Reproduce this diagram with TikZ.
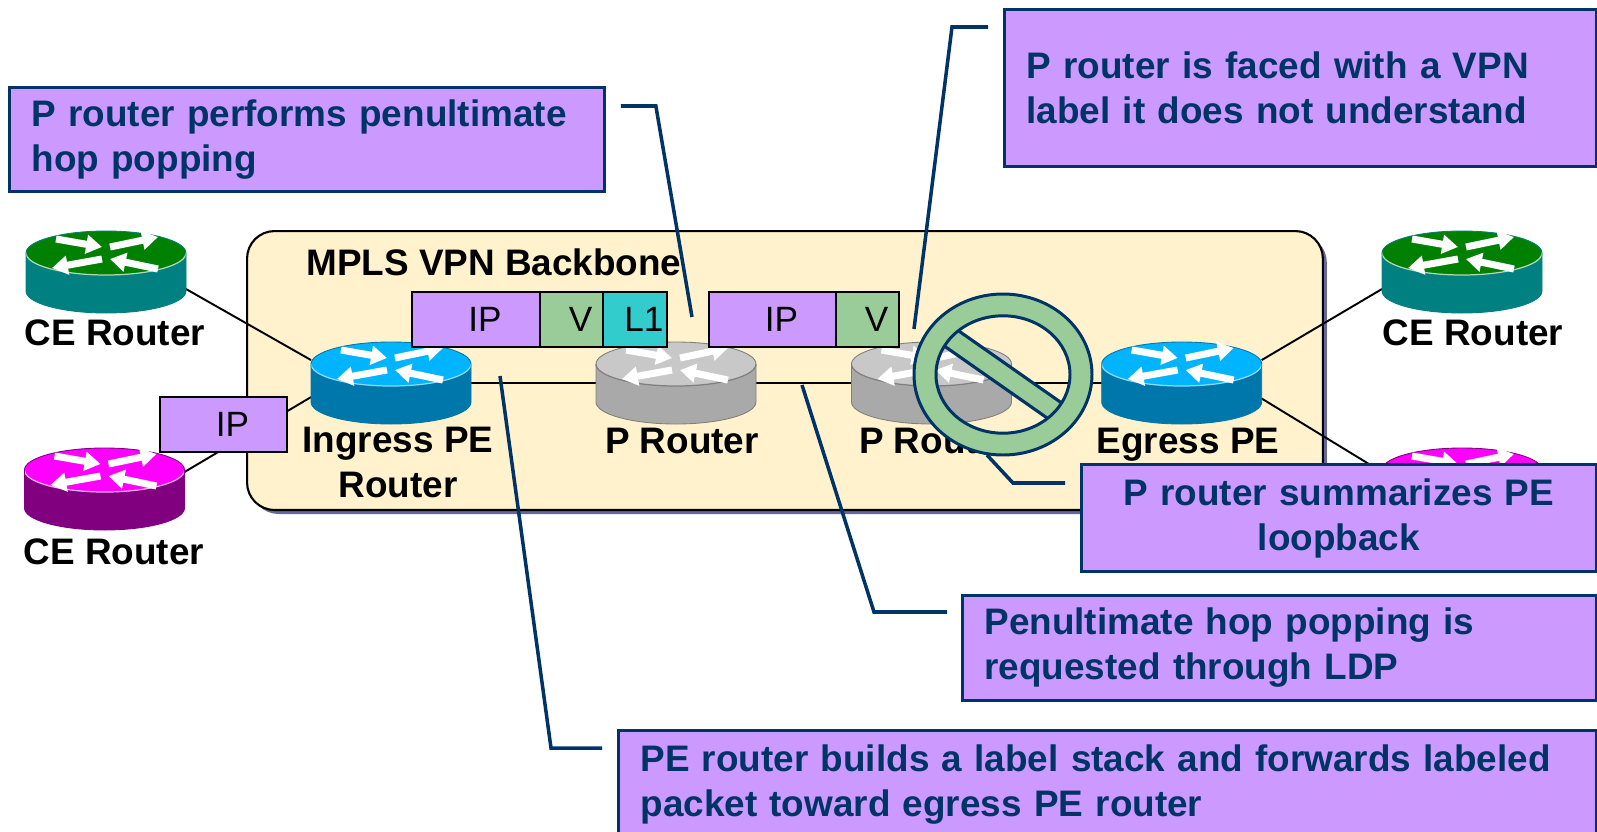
\documentclass[tikz,border=0pt]{standalone}
\usepackage{fontspec}
\setmainfont{Liberation Sans}
\usetikzlibrary{positioning,calc,arrows.meta,shadows}

\definecolor{calloutfill}{HTML}{CC99FF}
\definecolor{navy}{HTML}{003366}
\definecolor{backbonefill}{HTML}{FFF2CC}
\definecolor{backboneshade}{HTML}{666699}
\definecolor{vpnlabel}{HTML}{99CC99}
\definecolor{toplabel}{HTML}{33CCCC}
\definecolor{petop}{HTML}{00B4FF}
\definecolor{peside}{HTML}{0077AA}
\definecolor{pesheen}{HTML}{8FDAFF}
\definecolor{ptop}{HTML}{C8C8C8}
\definecolor{pside}{HTML}{A9A9A9}
\definecolor{prim}{HTML}{7F7F7F}
\definecolor{cegreentop}{HTML}{008000}
\definecolor{cegreenside}{HTML}{008080}
\definecolor{cemagtop}{HTML}{FF00FF}
\definecolor{cemagside}{HTML}{800080}

\newcommand{\lpad}{\hspace*{0.36cm}}

\tikzset{
	routerbox/.style={inner sep=0pt,outer sep=0pt,minimum width=3.2cm,minimum height=1.64cm},
	flow/.style={white,line width=4pt,-{Triangle[length=9pt,width=10.5pt]}},
	pics/router/.style n args={4}{code={
		\fill[#2] (-80,-19) -- (-80,19) arc[start angle=180,end angle=0,x radius=80,y radius=22] -- (80,-19) -- cycle;
		\fill[#1] (0,-19) ellipse[x radius=80,y radius=22];
		\draw[#3,line width=0.7pt] (-80,-19) arc[start angle=180,end angle=0,x radius=80,y radius=22];
		\draw[#4,line width=0.5pt] (-80,-19) -- (-80,19) arc[start angle=180,end angle=0,x radius=80,y radius=22] -- (80,-19) arc[start angle=0,end angle=-180,x radius=80,y radius=22];
		\draw[flow] (-50,-33) -- (-4,-25);
		\draw[flow] (4,-25) -- (52,-35);
		\draw[flow] (-4,-13) -- (-54,-4);
		\draw[flow] (52,-3) -- (4,-13);
	}},
	link/.style={line width=1.1pt},
	pointer/.style={navy,line width=2pt},
	lbl/.style={inner sep=0pt,align=center,font=\bfseries\fontsize{21}{25.6}\selectfont},
	cell/.style={draw,line width=1pt,inner sep=0pt,outer sep=0pt,minimum height=1.1cm,font=\fontsize{20}{24}\selectfont},
	callout/.style={draw=navy,line width=1.7pt,fill=calloutfill,text=navy,anchor=north west,inner xsep=0.44cm,inner ysep=0pt,font=\bfseries\fontsize{21}{25.6}\selectfont},
	backbone/.style={draw,line width=1.2pt,fill=backbonefill,rounded corners=0.55cm,anchor=north west,drop shadow={shadow xshift=0.08cm,shadow yshift=-0.08cm,fill=backboneshade,opacity=1}}
}

\begin{document}
\begin{tikzpicture}[x=0.02cm,y=-0.02cm]
	\useasboundingbox (0,0) rectangle (1597,832);
	\node[backbone,minimum width=21.52cm,minimum height=5.58cm] (mpls) at (246,230) {};
	\node[lbl,anchor=base west] (mplstitle) at (306,275) {MPLS VPN Backbone};

	\node[routerbox] (ceA) at (106,272) {};
	\node[routerbox] (ceB) at (104.5,489) {};
	\node[routerbox] (ing) at (391,383) {};
	\node[routerbox] (p1) at (676,383) {};
	\node[routerbox] (p2) at (931.5,383) {};
	\node[routerbox] (egr) at (1181.7,383) {};
	\node[routerbox] (ceC) at (1462,272) {};
	\node[routerbox] (ceD) at (1462,489) {};

	\draw[link] (ceA.-12) -- (ing.164);
	\draw[link] (ceB.12) -- (ing.190);
	\draw[link] (ing.east) -- (p1.west);
	\draw[link] (p1.east) -- (p2.west);
	\draw[link] (p2.east) -- (egr.west);
	\draw[link] (egr.16) -- (ceC.192);
	\draw[link] (egr.-11) -- (ceD.168);

	\pic at (ceA) {router={cegreentop}{cegreenside}{white!70!cegreentop}{cegreenside}};
	\pic at (ceB) {router={cemagtop}{cemagside}{white!70!cemagtop}{cemagside}};
	\pic at (ing) {router={petop}{peside}{pesheen}{peside}};
	\pic at (p1) {router={ptop}{pside}{prim}{prim}};
	\pic at (p2) {router={ptop}{pside}{prim}{prim}};
	\pic at (egr) {router={petop}{peside}{pesheen}{peside}};
	\pic at (ceC) {router={cegreentop}{cegreenside}{white!70!cegreentop}{cegreenside}};
	\pic at (ceD) {router={cemagtop}{cemagside}{white!70!cemagtop}{cemagside}};

	\node[lbl,anchor=base] (ceAlbl) at (115,345) {CE Router};
	\node[lbl,anchor=base] (ceBlbl) at (114,564) {CE Router};
	\node[lbl,anchor=base] (ceClbl) at (1473,345) {CE Router};
	\node[lbl] (inglbl) at (398,462) {Ingress PE\\Router};
	\node[lbl,anchor=base] (p1lbl) at (682,453) {P Router};
	\node[lbl,anchor=base] (p2lbl) at (936,453) {P Router};
	\node[lbl,anchor=base] (egrlbl) at (1188,453) {Egress PE};

	\node[cell,fill=calloutfill,minimum width=2.56cm] (pkAip) at (476,319.5) {\lpad IP};
	\node[cell,fill=vpnlabel,minimum width=1.26cm,right=0pt of pkAip] (pkAv) {\lpad V};
	\node[cell,fill=toplabel,minimum width=1.28cm,right=0pt of pkAv] (pkAl) {\lpad L1};
	\node[cell,fill=calloutfill,minimum width=2.54cm] (pkBip) at (772.5,319.5) {\lpad IP};
	\node[cell,fill=vpnlabel,minimum width=1.26cm,right=0pt of pkBip] (pkBv) {\lpad V};
	\node[cell,fill=calloutfill,minimum width=2.54cm] (pkCip) at (223.5,424.5) {\lpad IP};

	\coordinate (nosign) at (1003,374.5);
	\begin{scope}
		\clip (nosign) ellipse[x radius=67,y radius=58.7];
		\draw[navy,line width=13.5pt] ($(nosign)+(-100,-70)$) -- ($(nosign)+(100,70)$);
		\draw[vpnlabel,line width=9.8pt] ($(nosign)+(-100,-70)$) -- ($(nosign)+(100,70)$);
	\end{scope}
	\filldraw[fill=vpnlabel,draw=navy,line width=1.7pt,even odd rule] (nosign) ellipse[x radius=89,y radius=80.5] (nosign) ellipse[x radius=67,y radius=58.7];

	\node[callout,text width=11.02cm,minimum height=2.08cm,align=left] (cTL) at (8,86) {P router performs penultimate\\hop popping};
	\node[callout,text width=10.96cm,minimum height=3.14cm,align=left] (cTR) at (1003,8) {P router is faced with a VPN\\label it does not understand};
	\node[callout,text width=9.42cm,minimum height=2.14cm,align=center] (cSum) at (1080,463) {P router summarizes PE\\loopback};
	\node[callout,text width=11.8cm,minimum height=2.1cm,align=left] (cPen) at (961,594) {Penultimate hop popping is\\requested through LDP};
	\node[callout,text width=18.68cm,minimum height=2.18cm,align=left] (cPE) at (617,729) {PE router builds a label stack and forwards labeled\\packet toward egress PE router};

	\coordinate (tipA) at (692,317);
	\coordinate (tipB) at (914,329);
	\coordinate (tipC) at (500,376);
	\coordinate (tipD) at (802,385);
	\coordinate (signfoot) at (987,455);
	\draw[pointer] ($(cTL.north east)+(15,20)$) -- ++(35,0) -- (tipA);
	\draw[pointer] ($(cTR.north west)+(-15,19)$) -- ++(-36,0) -- (tipB);
	\draw[pointer] ($(cPE.north west)+(-15,19)$) -- ++(-51,0) -- (tipC);
	\draw[pointer] ($(cPen.north west)+(-14,18)$) -- ++(-73,0) -- (tipD);
	\draw[pointer] ($(cSum.north west)+(-15,20)$) -- ++(-52,0) -- (signfoot);
\end{tikzpicture}
\end{document}
